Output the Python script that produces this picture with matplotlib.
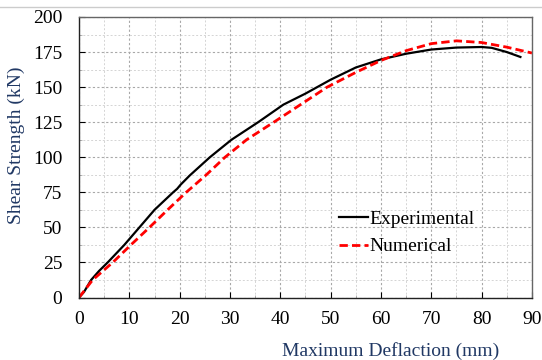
import matplotlib
matplotlib.use("Agg")
import matplotlib.pyplot as plt
from matplotlib.lines import Line2D
from matplotlib.ticker import MultipleLocator

# load-deflection curves (mm, kN)
exp_defl = [0, 1, 2.4, 4, 5.7, 9.0, 12.0, 15.0, 18.7, 19.5, 20.2, 22, 26, 30.3,
            35.6, 40.6, 45, 50, 55, 60, 65, 70, 75, 80, 82, 85, 87.7]
exp_load = [0, 4, 12.5, 19, 25, 37.5, 50, 62.5, 75, 77.5, 80.5, 87, 100, 112.5,
            125, 137.5, 145.4, 155.3, 164, 169.8, 173.8, 176.8, 178.2, 178.6, 178, 175, 171.5]

num_defl = [0, 2.7, 6.7, 10.3, 14.0, 17.6, 21.3, 25.3, 29, 33.3, 38.7, 44, 49.3,
            55, 60, 65, 70, 75, 80, 85, 90]
num_load = [0, 12.5, 25, 37.5, 50, 62.5, 75, 87.5, 100, 112.5, 125, 137.5, 150,
            160.5, 169, 176, 181, 183, 181.8, 178.5, 174.3]

plt.rcParams['font.family'] = ['Liberation Serif', 'DejaVu Serif']
plt.rcParams['font.size'] = 14

fig = plt.figure(figsize=(5.42, 3.6), dpi=100)
ax = fig.add_axes([0.1458, 0.1736, 0.8357, 0.7792])

# thin rule along the top of the figure
fig.add_artist(Line2D([0, 1], [0.981, 0.981], transform=fig.transFigure,
                      color='#cccccc', lw=1))

ax.plot(exp_defl, exp_load, color='black', lw=1.6, label='Experimental')
ax.plot(num_defl, num_load, color='red', lw=2, dashes=(3, 1.5), label='Numerical')

ax.set_xlim(0, 90)
ax.set_ylim(0, 200)
ax.xaxis.set_major_locator(MultipleLocator(10))
ax.xaxis.set_minor_locator(MultipleLocator(5))
ax.yaxis.set_major_locator(MultipleLocator(25))
ax.yaxis.set_minor_locator(MultipleLocator(12.5))

ax.grid(which='major', color='#a8a8a8', lw=0.8, dashes=(2, 2))
ax.grid(which='minor', color='#d4d4d4', lw=0.7, dashes=(2, 2))
ax.set_axisbelow(True)

ax.tick_params(which='major', direction='in', length=4, width=0.8, pad=10, labelsize=14)
ax.tick_params(which='minor', direction='in', length=2, width=0.5, color='#999999')
ax.tick_params(axis='y', pad=12)

for side in ('left', 'bottom'):
    ax.spines[side].set_color('#222222')
    ax.spines[side].set_linewidth(1.0)
for side in ('top', 'right'):
    ax.spines[side].set_color('#666666')
    ax.spines[side].set_linewidth(1.0)

label_color = '#203864'
ax.set_xlabel('Maximum Deflaction (mm)', color=label_color, fontsize=14)
ax.set_ylabel('Shear Strength (kN)', color=label_color, fontsize=14)
ax.xaxis.set_label_coords(0.688, -0.16)
ax.yaxis.set_label_coords(-0.12, 0.544)

ax.legend(loc='center left', bbox_to_anchor=(0.573, 0.23), frameon=False,
          handlelength=1.5, handletextpad=0.1, labelspacing=0.5, fontsize=14,
          borderaxespad=0, borderpad=0)

fig.savefig('out.png', dpi=100)
